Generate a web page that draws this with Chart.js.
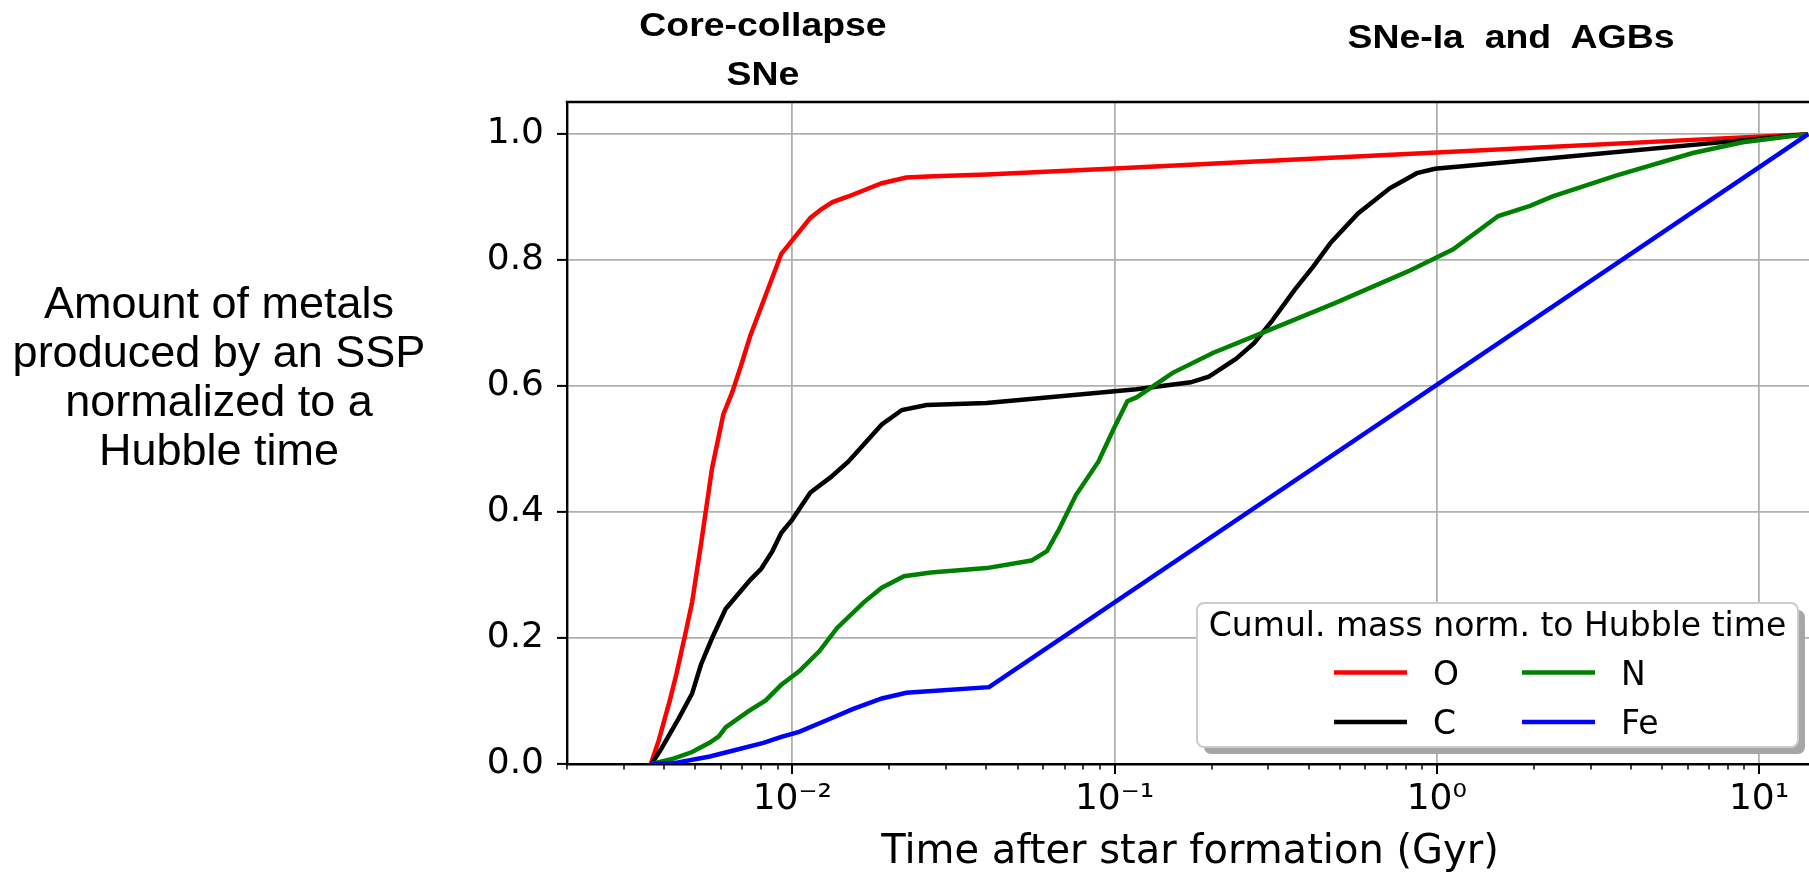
<!doctype html>
<html lang="en">
<head>
<meta charset="UTF-8" />
<title>Cumulative metal production of an SSP</title>
<script src="https://cdn.jsdelivr.net/npm/chart.js"></script>
<style>
    html, body { margin: 0; padding: 0; background: #fff; overflow: hidden; }
    #wrap { position: relative; width: 1809px; height: 875px; overflow: hidden; }
    #chart { position: absolute; left: 0; top: 0; }
    .note {
        position: absolute;
        font-family: "Liberation Sans", Arial, Helvetica, sans-serif;
        color: #000;
        text-align: center;
        white-space: pre;
        transform-origin: 50% 50%;
    }
    .phase { font-weight: bold; font-size: 34px; transform: scaleX(1.1); }
</style>
</head>
<body>
<div id="wrap">
    <canvas id="chart" width="1813" height="875"></canvas>
    <div class="note" style="left:-1px; top:278px; width:440px; font-size:45px; line-height:49px;">Amount of metals
produced by an SSP
normalized to a
Hubble time</div>
    <div class="note phase" style="left:613px; top:0px; width:300px; line-height:48.5px;">Core-collapse
SNe</div>
    <div class="note phase" style="left:1311px; top:16px; width:400px; line-height:40px;">SNe-Ia  and  AGBs</div>
</div>
<script>
    // Time after star formation (Gyr) and cumulative mass normalised to a Hubble time.
    const oTime = [0.00364, 0.00385, 0.00417, 0.00437, 0.00466, 0.00489, 0.00521, 0.00564, 0.00611, 0.00651,
        0.00694, 0.0074, 0.00925, 0.01138, 0.01233, 0.01334, 0.01492, 0.01896, 0.0226, 0.0274, 0.0401, 0.1, 1.0, 14.2];
    const oMass = [0, 0.037, 0.101, 0.143, 0.207, 0.257, 0.349, 0.470, 0.555, 0.590,
        0.633, 0.679, 0.810, 0.867, 0.881, 0.892, 0.901, 0.922, 0.931, 0.933, 0.936, 0.9455, 0.971, 1.0];

    const cTime = [0.00366, 0.00391, 0.00417, 0.00444, 0.00489, 0.00521, 0.00564, 0.00621, 0.00683, 0.0074,
        0.00801, 0.00868, 0.00925, 0.0100, 0.01138, 0.01314, 0.01492, 0.01896, 0.02189, 0.0261, 0.0401, 0.117,
        0.1723, 0.1962, 0.238, 0.271, 0.3085, 0.3625, 0.4124, 0.4693, 0.5697, 0.7145, 0.8673, 0.987, 2.288, 14.2];
    const cMass = [0, 0.023, 0.048, 0.072, 0.112, 0.158, 0.200, 0.246, 0.271, 0.292,
        0.310, 0.338, 0.367, 0.388, 0.431, 0.455, 0.480, 0.539, 0.562, 0.570, 0.573, 0.595,
        0.606, 0.615, 0.643, 0.668, 0.704, 0.753, 0.789, 0.828, 0.874, 0.914, 0.938, 0.945, 0.962, 1.0];

    const nTime = [0.00366, 0.0043, 0.00489, 0.00555, 0.00592, 0.00621, 0.00728, 0.00827, 0.00925, 0.0105,
        0.01213, 0.01378, 0.0167, 0.01896, 0.02223, 0.02693, 0.0401, 0.05522, 0.0617, 0.06688, 0.0759, 0.0891,
        0.0996, 0.1096, 0.117, 0.1515, 0.2026, 0.28, 0.4849, 0.8135, 0.987, 1.124, 1.552, 1.947, 2.288, 3.596,
        6.229, 8.887, 14.2];
    const nMass = [0, 0.009, 0.019, 0.034, 0.044, 0.058, 0.083, 0.101, 0.126, 0.147,
        0.179, 0.216, 0.257, 0.280, 0.298, 0.304, 0.311, 0.323, 0.338, 0.370, 0.427, 0.480,
        0.533, 0.576, 0.582, 0.621, 0.653, 0.682, 0.732, 0.782, 0.803, 0.817, 0.870, 0.886, 0.901, 0.934,
        0.970, 0.987, 1.0];

    const feTime = [0.00364, 0.0043, 0.00555, 0.0063, 0.00814, 0.00925, 0.0105, 0.01273, 0.0154, 0.01896,
        0.0226, 0.0408, 14.2];
    const feMass = [0, 0.0014, 0.012, 0.019, 0.0335, 0.043, 0.051, 0.069, 0.087, 0.104,
        0.113, 0.122, 1.0];

    const yTicks = [0, 0.2, 0.4, 0.6, 0.8, 1.0];
    const legendTitle = 'Cumul. mass norm. to Hubble time';

    const TICK_FONT = { family: '"DejaVu Sans", sans-serif', size: 36 };
    const GRID = '#b0b0b0';
    const SUP = { '-': '\u207B', '0': '\u2070', '1': '\u00B9', '2': '\u00B2', '3': '\u00B3',
        '4': '\u2074', '5': '\u2075', '6': '\u2076', '7': '\u2077', '8': '\u2078', '9': '\u2079' };

    function points(xs, ys) {
        return xs.map((x, i) => ({ x: x, y: ys[i] }));
    }

    function isDecade(v) {
        let l = Math.log10(v);
        return Math.abs(l - Math.round(l)) < 1e-9;
    }

    function decadeLabel(v) {
        let e = String(Math.round(Math.log10(v)));
        return '10' + e.split('').map(c => SUP[c]).join('');
    }

    // 1..9 x 10^k ticks, so the minor marks can be drawn shorter.
    function logTicks(min, max) {
        let out = [];
        for (let e = Math.floor(Math.log10(min)); e <= Math.ceil(Math.log10(max)); e++)
            for (let m = 1; m < 10; m++) {
                let v = parseFloat((m * Math.pow(10, e)).toPrecision(12));
                if (v >= min * 0.999999 && v <= max) out.push({ value: v, major: m === 1 });
            }
        return out;
    }

    function roundRect(ctx, x, y, w, h, r) {
        ctx.beginPath();
        ctx.moveTo(x + r, y);
        ctx.arcTo(x + w, y, x + w, y + h, r);
        ctx.arcTo(x + w, y + h, x, y + h, r);
        ctx.arcTo(x, y + h, x, y, r);
        ctx.arcTo(x, y, x + w, y, r);
        ctx.closePath();
    }

    // Top spine, x tick marks and the boxed two-column legend.
    const decorations = {
        id: 'decorations',
        afterDraw(chart) {
            const ctx = chart.ctx;
            const a = chart.chartArea;
            const xs = chart.scales.x;

            ctx.save();
            ctx.strokeStyle = '#000';
            ctx.lineWidth = 2.4;
            ctx.beginPath();
            ctx.moveTo(a.left - 1.2, a.top);
            ctx.lineTo(a.right, a.top);
            ctx.stroke();

            for (let t of xs.ticks) {
                let px = Math.round(xs.getPixelForValue(t.value));
                let major = isDecade(t.value);
                ctx.lineWidth = major ? 2 : 1.5;
                ctx.beginPath();
                ctx.moveTo(px, a.bottom);
                ctx.lineTo(px, a.bottom + (major ? 10 : 5.5));
                ctx.stroke();
            }

            const w = 601, h = 144;
            const x0 = a.right - 15 - w, y0 = a.bottom - 17 - h;
            ctx.fillStyle = '#a6a6a6';
            roundRect(ctx, x0 + 7, y0 + 7, w, h, 7);
            ctx.fill();
            ctx.fillStyle = '#fff';
            ctx.strokeStyle = '#cccccc';
            ctx.lineWidth = 2;
            roundRect(ctx, x0, y0, w, h, 7);
            ctx.fill();
            ctx.stroke();

            ctx.fillStyle = '#000';
            ctx.font = '33px "DejaVu Sans", sans-serif';
            ctx.textAlign = 'center';
            ctx.textBaseline = 'alphabetic';
            ctx.fillText(legendTitle, x0 + w / 2, y0 + 33);

            ctx.textAlign = 'left';
            chart.data.datasets.forEach((ds, i) => {
                let col = Math.floor(i / 2), row = i % 2;
                let lx = x0 + 137 + col * 188;
                let ly = y0 + 69.5 + row * 49.5;
                ctx.strokeStyle = ds.borderColor;
                ctx.lineWidth = 4.5;
                ctx.lineCap = 'butt';
                ctx.beginPath();
                ctx.moveTo(lx, ly);
                ctx.lineTo(lx + 73, ly);
                ctx.stroke();
                ctx.fillText(ds.label, lx + 99, ly + 12);
            });
            ctx.restore();
        },
    };

    const ctx = document.getElementById('chart');

    let chart = new Chart(ctx, {
        type: 'line',
        data: {
            datasets: [
                { label: 'O', data: points(oTime, oMass), borderColor: '#ff0000', order: 4 },
                { label: 'C', data: points(cTime, cMass), borderColor: '#000000', order: 3 },
                { label: 'N', data: points(nTime, nMass), borderColor: '#008000', order: 2 },
                { label: 'Fe', data: points(feTime, feMass), borderColor: '#0000ff', order: 1 },
            ],
        },
        options: {
            responsive: false,
            animation: false,
            devicePixelRatio: 1,
            layout: { autoPadding: false, padding: { top: 102, right: 0, bottom: 0, left: 0 } },
            elements: {
                line: { borderWidth: 4.5, tension: 0, fill: false },
                point: { radius: 0 },
            },
            plugins: {
                legend: { display: false },
                tooltip: { enabled: false },
            },
            scales: {
                x: {
                    type: 'logarithmic',
                    min: 0.002,
                    max: 14.7,
                    afterBuildTicks: (scale) => { scale.ticks = logTicks(0.002, 14.7); },
                    afterFit: (scale) => { scale.height = 111; },
                    grid: {
                        color: (c) => (c.tick && isDecade(c.tick.value) ? GRID : 'rgba(0,0,0,0)'),
                        lineWidth: 1.8,
                        tickLength: 10,
                        tickColor: 'rgba(0,0,0,0)',
                    },
                    border: { color: '#000', width: 2.4 },
                    ticks: {
                        autoSkip: false,
                        maxRotation: 0,
                        minRotation: 0,
                        padding: 4,
                        color: '#000',
                        font: TICK_FONT,
                        callback: (v) => (isDecade(v) ? decadeLabel(v) : ''),
                    },
                    title: {
                        display: true,
                        text: 'Time after star formation (Gyr)',
                        color: '#000',
                        font: { family: '"DejaVu Sans", sans-serif', size: 40, lineHeight: 1.0 },
                        padding: { top: 0, bottom: 2 },
                    },
                },
                y: {
                    type: 'linear',
                    min: 0,
                    max: 1.051,
                    afterBuildTicks: (scale) => { scale.ticks = yTicks.map((v) => ({ value: v })); },
                    afterFit: (scale) => { scale.width = 567; },
                    grid: {
                        color: GRID,
                        lineWidth: 1.8,
                        tickLength: 10,
                        tickColor: '#000',
                        tickWidth: 2,
                    },
                    border: { color: '#000', width: 2.4 },
                    ticks: {
                        padding: 13,
                        color: '#000',
                        font: TICK_FONT,
                        callback: (v) => v.toFixed(1),
                    },
                },
            },
        },
        plugins: [decorations],
    });
</script>
</body>
</html>
